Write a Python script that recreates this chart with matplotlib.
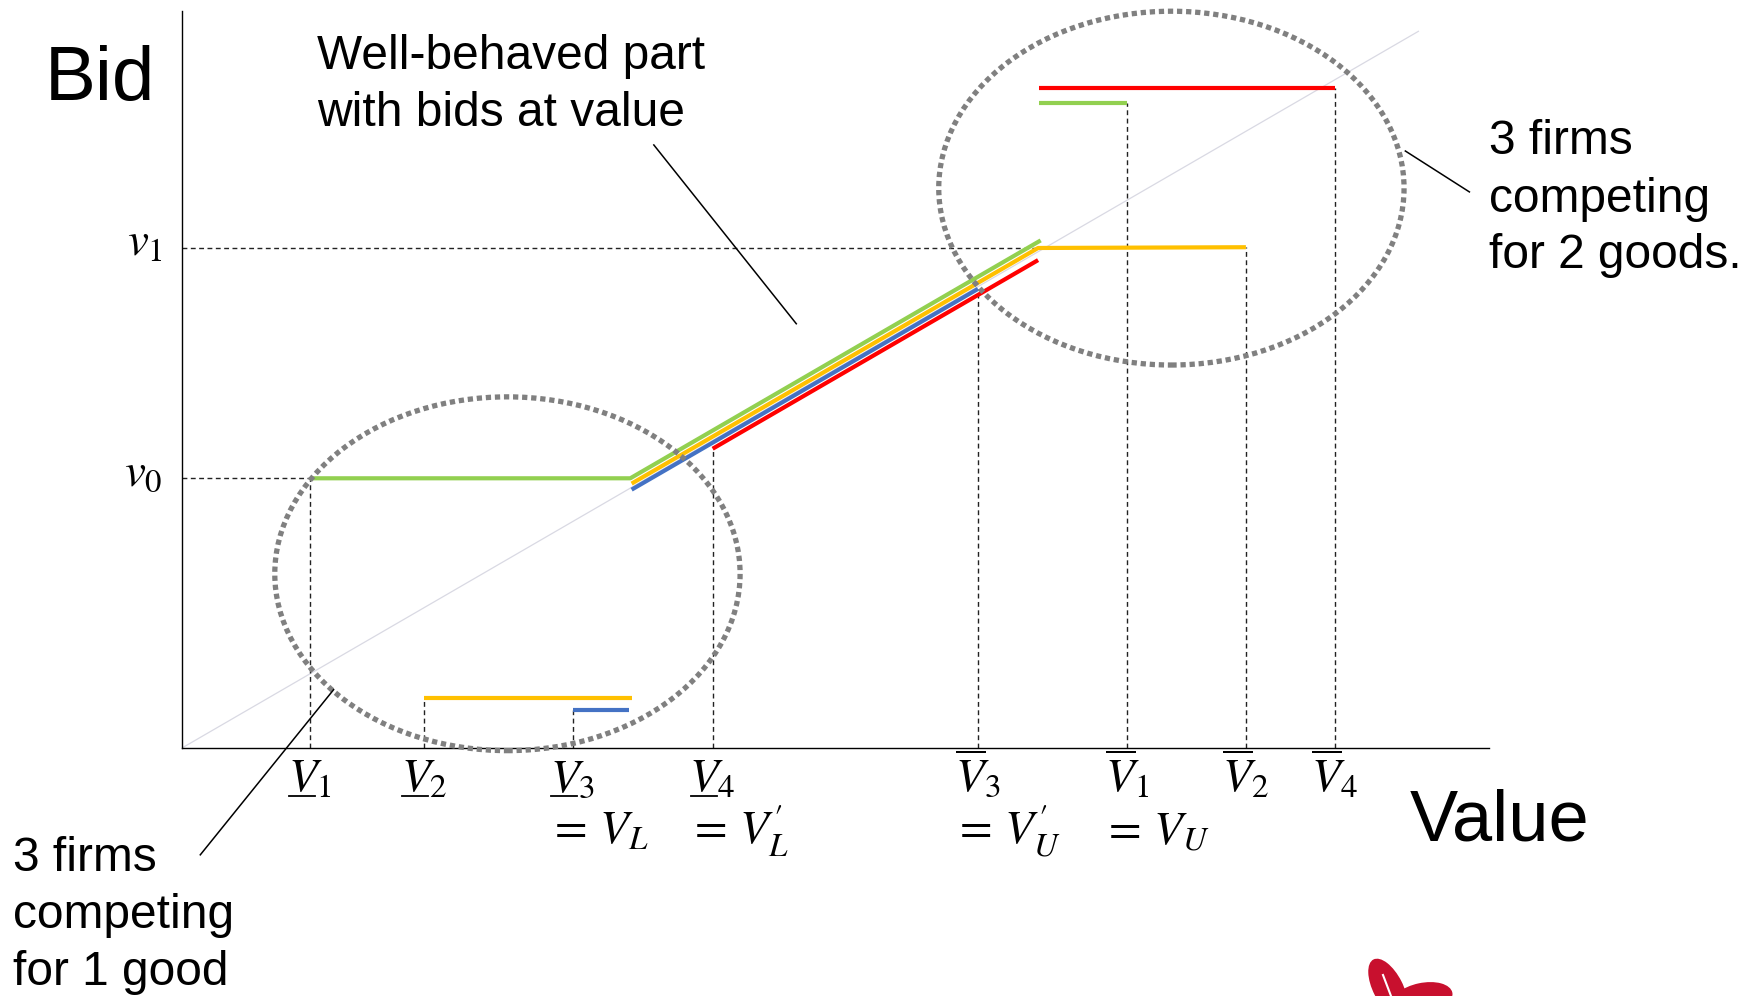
import matplotlib
matplotlib.use("Agg")
import matplotlib.pyplot as plt
from matplotlib.patches import Ellipse
from matplotlib.transforms import blended_transform_factory

plt.rcParams['font.family'] = ['Liberation Sans', 'DejaVu Sans']
plt.rcParams['mathtext.fontset'] = 'stix'

GREEN = '#92D050'
YELLOW = '#FFC000'
BLUE = '#4472C4'
RED = '#FF0000'

# cut-off values on the Value axis
low_cuts = [9.8, 18.5, 29.9, 40.6]
low_labels = [r'$V_1$', r'$V_2$', r'$V_3$', r'$V_4$']
high_cuts = [60.9, 72.3, 81.4, 88.2]
high_labels = [r'$\overline{V}_3$', r'$\overline{V}_1$', r'$\overline{V}_2$', r'$\overline{V}_4$']
alias_cuts = [29.9, 40.6, 60.9, 72.3]
alias_labels = [r'$=\,V_L$', r'$=\,V^{\prime}_L$', r'$=\,V^{\prime}_U$', r'$=\,V_U$']

# bid levels on the Bid axis
v0 = 35.6
v1 = 66.0
bid_ticks = [v0, v1]
bid_labels = [r'$v_0$', r'$v_1$']

# where the dashed guides meet the bid curves
low_tops = [35.6, 6.6, 5.0, 39.5]
high_tops = [60.6, 85.1, 66.1, 87.1]

# bid functions, one list of segments per firm
green_x = [[9.8, 34.3, 65.7], [65.6, 72.3]]
green_y = [[35.6, 35.6, 67.0], [85.1, 85.1]]
yellow_x = [[18.5, 34.4], [34.4, 65.5, 81.4]]
yellow_y = [[6.6, 6.6], [34.9, 66.0, 66.1]]
blue_x = [[29.9, 34.2], [34.4, 60.9]]
blue_y = [[5.0, 5.0], [34.1, 60.6]]
red_x = [[40.6, 65.5], [65.6, 88.2]]
red_y = [[39.5, 64.4], [87.1, 87.1]]

# bid = value line
diag_x = [0, 94.6]
diag_y = [0, 94.6]

# the two circled regions
circle_centers = [(24.9, 23.0), (75.7, 73.9)]
circle_w = 35.6
circle_h = 46.7

W, H = 1752, 996
fig = plt.figure(figsize=(W / 100, H / 100), dpi=100)

# overlay in pixel units for the logo
bg = fig.add_axes([0, 0, 1, 1])
bg.set_xlim(0, W)
bg.set_ylim(0, H)
bg.axis('off')
bg.add_patch(Ellipse((1388, 8), 64, 30, angle=117, color='#C8102E', lw=0))
bg.add_patch(Ellipse((1422, -3), 62, 32, angle=12, color='#C8102E', lw=0))
bg.plot([1383, 1391], [21, 0], color='white', lw=1.5)

ax = fig.add_axes([182 / W, 248 / H, 1307 / W, 737 / H])
ax.set_xlim(0, 100)
ax.set_ylim(0, 97.28)
ax.patch.set_alpha(0)
for s in ['top', 'right']:
    ax.spines[s].set_visible(False)
for s in ['left', 'bottom']:
    ax.spines[s].set_color('black')
    ax.spines[s].set_linewidth(1.0)
ax.set_xticks([])
ax.set_yticks([])

ax.plot(diag_x, diag_y, color='#D9D9E3', lw=0.9, zorder=1)

# dashed guides
guide = dict(color='#222222', lw=1.0, dashes=(3.5, 2.5), zorder=2)
for c, t in zip(low_cuts + high_cuts, low_tops + high_tops):
    ax.plot([c, c], [0, t], **guide)
ax.plot([0, low_cuts[0]], [v0, v0], **guide)
ax.plot([0, 65.5], [v1, v1], **guide)

for xs, ys, col in [(green_x, green_y, GREEN), (yellow_x, yellow_y, YELLOW),
                    (blue_x, blue_y, BLUE), (red_x, red_y, RED)]:
    for sx, sy in zip(xs, ys):
        ax.plot(sx, sy, color=col, lw=3, solid_capstyle='butt', zorder=3)

for cx, cy in circle_centers:
    ax.add_patch(Ellipse((cx, cy), circle_w, circle_h, fill=False, ec='#808080',
                         lw=3.8, ls=(0, (1, 0.72)), clip_on=False, zorder=4))

# leader lines for the notes
lead = dict(color='black', lw=1.1, clip_on=False, zorder=5)
ax.plot([36.1, 47.0], [79.6, 56.0], **lead)
ax.plot([93.6, 98.5], [78.8, 73.4], **lead)
ax.plot([1.4, 11.6], [-14.1, 7.7], **lead)

# axis labels (math)
tr = blended_transform_factory(ax.transData, ax.transAxes)
for c, lab in zip(low_cuts + high_cuts, low_labels + high_labels):
    ax.text(c, -0.0597, lab, transform=tr, ha='center', va='baseline', fontsize=34)
for c in low_cuts:
    ax.plot([c - 1.65, c + 0.35], [-0.0651, -0.0651], transform=tr, color='black',
            lw=1.3, clip_on=False)
for c, lab in zip(alias_cuts, alias_labels):
    ax.text(c - 1.9, -0.1303, lab, transform=tr, ha='left', va='baseline', fontsize=34)
for b, lab in zip(bid_ticks, bid_labels):
    ax.text(-1.45, b - 1.0, lab, ha='right', va='baseline', fontsize=34)

fig.text(45 / W, 1 - 100 / H, 'Bid', fontsize=55, va='baseline')
fig.text(1410 / W, 1 - 840 / H, 'Value', fontsize=52, va='baseline')


def note(x, baselines, lines):
    for b, line in zip(baselines, lines):
        fig.text(x / W, 1 - b / H, line, fontsize=34.5, va='baseline')


note(317, [69, 126], ['Well-behaved part', 'with bids at value'])
note(1489, [154, 212, 268], ['3 firms', 'competing', 'for 2 goods.'])
note(13, [871, 928, 985], ['3 firms', 'competing', 'for 1 good'])

fig.savefig('out.png', dpi=100)
